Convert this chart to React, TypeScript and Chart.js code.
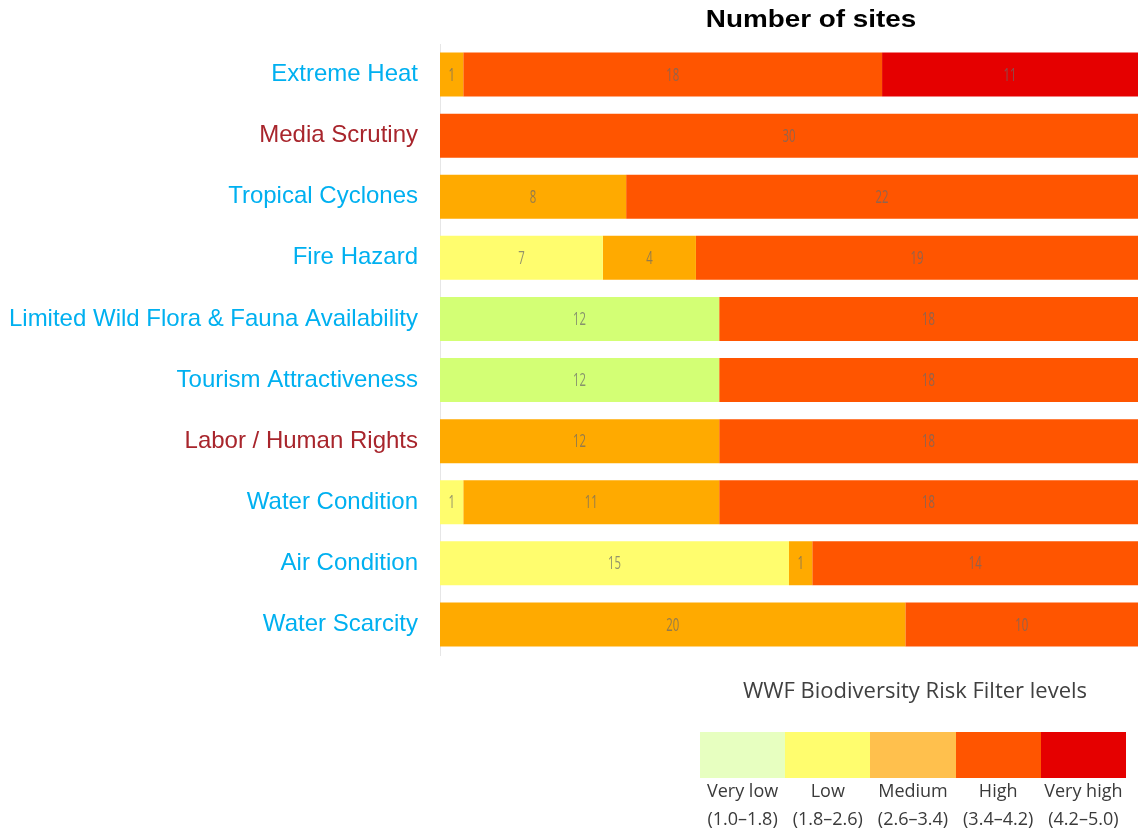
import React, { useEffect, useRef } from "react";
import { Chart, registerables } from "chart.js";

Chart.register(...registerables);

const categories = [
  "Extreme Heat",
  "Media Scrutiny",
  "Tropical Cyclones",
  "Fire Hazard",
  "Limited Wild Flora & Fauna Availability",
  "Tourism Attractiveness",
  "Labor / Human Rights",
  "Water Condition",
  "Air Condition",
  "Water Scarcity",
];
const categoryColors = [
  "#00B0F0", "#A8252C", "#00B0F0", "#00B0F0", "#00B0F0",
  "#00B0F0", "#A8252C", "#00B0F0", "#00B0F0", "#00B0F0",
];

const veryLow = [0, 0, 0, 0, 12, 12, 0, 0, 0, 0];
const low = [0, 0, 0, 7, 0, 0, 0, 1, 15, 0];
const medium = [1, 0, 8, 4, 0, 0, 12, 11, 1, 20];
const high = [18, 30, 22, 19, 18, 18, 18, 18, 14, 10];
const veryHigh = [11, 0, 0, 0, 0, 0, 0, 0, 0, 0];

const seriesNames = ["Very low", "Low", "Medium", "High", "Very high"];
const barColors = ["#D3FF75", "#FFFD6E", "#FFAA00", "#FF5500", "#E50000"];

const legendTitle = "WWF Biodiversity Risk Filter levels";
const legendNames = ["Very low", "Low", "Medium", "High", "Very high"];
const legendRanges = ["(1.0\u20131.8)", "(1.8\u20132.6)", "(2.6\u20133.4)", "(3.4\u20134.2)", "(4.2\u20135.0)"];
const legendColors = ["#E7FFC0", "#FFFD6E", "#FFC04D", "#FF5500", "#E50000"];

const chartTitle = "Number of sites";

const valueLabelPlugin = {
  id: "valueLabels",
  afterDatasetsDraw(chart: any) {
    const ctx = chart.ctx;
    chart.data.datasets.forEach((ds: any, di: number) => {
      const meta = chart.getDatasetMeta(di);
      meta.data.forEach((el: any, i: number) => {
        const v = ds.data[i];
        if (!v) return;
        const right = Math.min(el.x, chart.width);
        const cx = (right + el.base) / 2;
        ctx.save();
        ctx.translate(cx, el.y + 1);
        ctx.scale(0.63, 1);
        ctx.font = "18px 'Open Sans', sans-serif";
        ctx.fillStyle = "rgba(105,105,105,0.72)";
        ctx.textAlign = "center";
        ctx.textBaseline = "middle";
        ctx.fillText(String(v), 0, 0);
        ctx.restore();
      });
    });
  },
};

const titlePlugin = {
  id: "customTitle",
  afterDraw(chart: any) {
    const ctx = chart.ctx;
    ctx.save();
    ctx.translate(811, 20);
    ctx.scale(1.16, 1);
    ctx.font = "bold 24px 'Liberation Sans', Arial, sans-serif";
    ctx.fillStyle = "#000000";
    ctx.textAlign = "center";
    ctx.textBaseline = "middle";
    ctx.fillText(chartTitle, 0, 0);
    ctx.restore();
  },
};

export default function App() {
  const canvasRef = useRef<HTMLCanvasElement | null>(null);

  useEffect(() => {
    const canvas = canvasRef.current;
    if (!canvas) return;
    const series = [veryLow, low, medium, high, veryHigh];
    const chart = new Chart(canvas, {
      type: "bar",
      data: {
        labels: categories,
        datasets: series.map((d, i) => ({
          label: seriesNames[i],
          data: d,
          backgroundColor: barColors[i],
          borderWidth: 0,
          barPercentage: 0.9,
          categoryPercentage: 0.8,
        })),
      },
      options: {
        indexAxis: "y",
        animation: false,
        responsive: false,
        maintainAspectRatio: false,
        layout: { padding: { top: 44, bottom: 176, left: 0, right: -5 } },
        plugins: {
          legend: { display: false },
          title: { display: false },
          tooltip: { enabled: false },
        },
        scales: {
          x: {
            stacked: true,
            min: 0,
            max: 30,
            display: false,
          },
          y: {
            stacked: true,
            grid: { display: false, drawTicks: false },
            border: { display: true, color: "#E6E6E6", width: 1 },
            ticks: {
              padding: 22,
              color: (c: any) => categoryColors[c.index],
              font: { family: "'Liberation Sans', Arial, sans-serif", size: 24 },
            },
            afterFit(scale: any) {
              scale.width = 440;
            },
          },
        },
      },
      plugins: [valueLabelPlugin, titlePlugin],
    });
    return () => chart.destroy();
  }, []);

  const boxLeft = 700;
  const boxW = 85.2;

  return (
    <div style={{ position: "absolute", left: 0, top: 0, width: 1138, height: 831, background: "#fff", overflow: "hidden" }}>
      <canvas ref={canvasRef} width={1138} height={831} style={{ position: "absolute", left: 0, top: 0 }} />
      <div
        style={{
          position: "absolute",
          left: 700,
          width: 430,
          top: 674,
          textAlign: "center",
          fontFamily: "'Open Sans', sans-serif",
          fontSize: 22,
          lineHeight: "30px",
          color: "#404040",
          whiteSpace: "nowrap",
        }}
      >
        {legendTitle}
      </div>
      {legendColors.map((c, i) => (
        <div
          key={"box" + i}
          style={{
            position: "absolute",
            left: boxLeft + i * boxW,
            top: 732,
            width: boxW + 0.5,
            height: 46,
            background: c,
          }}
        />
      ))}
      {legendNames.map((n, i) => (
        <div
          key={"lab" + i}
          style={{
            position: "absolute",
            left: boxLeft + i * boxW - 12,
            width: boxW + 24,
            top: 776,
            textAlign: "center",
            fontFamily: "'Open Sans', sans-serif",
            fontSize: 18,
            lineHeight: "28px",
            color: "#3A3A3A",
            whiteSpace: "nowrap",
          }}
        >
          <div>{n}</div>
          <div>{legendRanges[i]}</div>
        </div>
      ))}
    </div>
  );
}
